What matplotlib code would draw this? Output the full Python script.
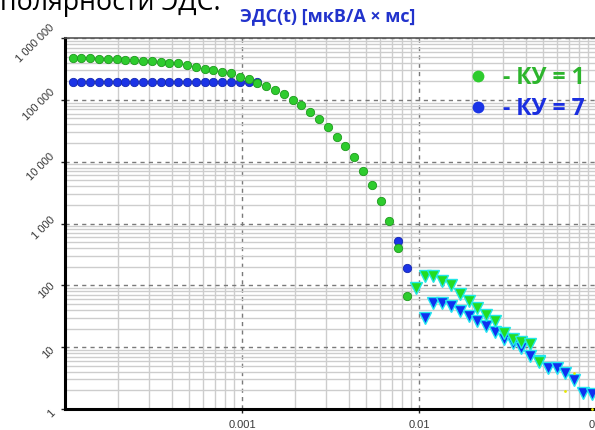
import matplotlib
matplotlib.use("Agg")
import matplotlib.pyplot as plt
from matplotlib.ticker import FixedLocator, LogLocator, NullFormatter
from matplotlib.lines import Line2D
import matplotlib.transforms as mtransforms

plt.rcParams['font.family'] = ['Open Sans', 'DejaVu Sans']

# time grid (s)
t = [1.105e-4, 1.239e-4, 1.389e-4, 1.558e-4, 1.747e-4, 1.959e-4, 2.196e-4, 2.463e-4,
     2.761e-4, 3.096e-4, 3.472e-4, 3.893e-4, 4.365e-4, 4.894e-4, 5.488e-4, 6.152e-4,
     6.900e-4, 7.736e-4, 8.675e-4, 9.723e-4, 1.090e-3, 1.222e-3, 1.370e-3, 1.537e-3,
     1.723e-3, 1.932e-3, 2.166e-3, 2.429e-3, 2.723e-3, 3.054e-3, 3.424e-3, 3.839e-3,
     4.304e-3, 4.826e-3, 5.411e-3, 6.067e-3, 6.803e-3, 7.627e-3, 8.552e-3, 9.590e-3,
     1.075e-2, 1.205e-2, 1.352e-2, 1.515e-2, 1.699e-2, 1.905e-2, 2.136e-2, 2.395e-2,
     2.685e-2, 3.011e-2, 3.376e-2, 3.785e-2, 4.244e-2, 4.759e-2, 5.336e-2, 5.983e-2,
     6.708e-2, 7.522e-2, 8.434e-2, 9.458e-2]

# KU = 1, positive polarity (circles), indices 0..38
ku1_pos = [470000, 470000, 468000, 466000, 457000, 455000, 445000, 435000, 429000,
           425000, 409000, 398000, 390000, 370000, 340000, 315000, 303000, 285000,
           269000, 238000, 219000, 190000, 167000, 144000, 123000, 99000, 81500,
           64000, 49000, 36700, 25300, 17900, 12000, 7100, 4200, 2300, 1090, 405, 67]
# KU = 1, negative polarity (triangles), indices 39..53
ku1_neg = [92, 139, 141, 117, 102, 73, 55, 42.3, 32.9, 26.4, 17.0, 13.6, 12.2, 11.3, 5.7]

# KU = 7, positive polarity: indices 0..21 and 37..38
ku7_pos_idx = list(range(0, 22)) + [37, 38]
ku7_pos = [196000] * 22 + [519, 192]
# KU = 7, negative polarity: indices 40..59
ku7_neg = [29.1, 50.9, 52.5, 46.0, 38.6, 32.1, 26.4, 22.0, 17.7, 13.8, 11.5, 9.7, 7.3,
           6.0, 4.52, 4.52, 3.79, 2.96, 1.82, 1.74]

# faint extra points (yellow)
extra_idx = [56, 57, 59]
extra_val = [1.94, 3.8, 1.0]

y_ticks = [1, 10, 100, 1000, 10000, 100000, 1000000]
y_labels = ['1', '10', '100', '1 000', '10 000', '100 000', '1 000 000']
x_ticks = [0.001, 0.01, 0.1]
x_labels = ['0.001', '0.01', '0.1']

W, H = 595, 430
fig = plt.figure(figsize=(W / 100, H / 100), dpi=100)
ax = fig.add_axes([65 / W, 21 / H, 531 / W, 371 / H])
ax.set_xscale('log')
ax.set_yscale('log')
ax.set_xlim(1e-4, 0.1)
ax.set_ylim(1, 1e6)

# grid
ax.set_axisbelow(True)
ax.xaxis.set_major_locator(FixedLocator(x_ticks))
ax.yaxis.set_major_locator(FixedLocator(y_ticks))
ax.xaxis.set_minor_locator(LogLocator(base=10, subs=range(2, 10), numticks=20))
ax.yaxis.set_minor_locator(LogLocator(base=10, subs=range(2, 10), numticks=20))
ax.xaxis.set_minor_formatter(NullFormatter())
ax.yaxis.set_minor_formatter(NullFormatter())
ax.grid(which='minor', color='#cdcdcd', linestyle='-', linewidth=1.0)
ax.grid(which='major', color='#7a7a7a', linestyle=(0, (3, 3)), linewidth=1.0)

ax.set_xticks(x_ticks)
ax.set_xticklabels(x_labels)
ax.set_yticks(y_ticks)
ax.set_yticklabels(y_labels, rotation=45, ha='right', va='center')
ax.tick_params(axis='both', which='major', labelsize=8, labelcolor='#3a3a3a',
               length=3, width=1, color='#222222')
ax.tick_params(axis='both', which='minor', length=0)
ax.tick_params(axis='x', pad=5)
ax.tick_params(axis='y', pad=3)
for lbl in ax.get_yticklabels() + ax.get_xticklabels():
    lbl.set_fontfamily(['Liberation Sans', 'DejaVu Sans'])
off = mtransforms.ScaledTranslation(0, -5 / 100, fig.dpi_scale_trans)
for lbl in ax.get_yticklabels():
    lbl.set_transform(lbl.get_transform() + off)

for s in ['left', 'bottom']:
    ax.spines[s].set_color('black')
    ax.spines[s].set_linewidth(2.2)
ax.spines['top'].set_color('#555555')
ax.spines['top'].set_linewidth(1.2)
ax.spines['right'].set_visible(False)

# data
blue_c = '#1c34e6'
green_c = '#2ecc2e'
ax.plot([t[i] for i in ku7_pos_idx], ku7_pos, 'o', ms=6.0, mfc=blue_c, mec='#1428b0',
        mew=0.6, zorder=3, clip_on=False)
ax.plot(t[40:60], ku7_neg, 'v', ms=8, mfc='#1030f0', mec='#22e6f0', mew=1.0, zorder=4,
        clip_on=False)
ax.plot(t[0:39], ku1_pos, 'o', ms=6.0, mfc=green_c, mec='#1e9a1e', mew=0.6, zorder=5,
        clip_on=False)
ax.plot(t[39:54], ku1_neg, 'v', ms=8, mfc='#22dd22', mec='#22e6e6', mew=1.0, zorder=6,
        clip_on=False)
ax.plot([t[i] for i in extra_idx], extra_val, 'o', ms=2, mfc='#e6e600', mec='none',
        zorder=7, clip_on=False)

# legend
handles = [Line2D([], [], marker='o', ls='none', ms=8.5, mfc='#2ecc2e', mec='none'),
           Line2D([], [], marker='o', ls='none', ms=8.5, mfc='#1a34e6', mec='none')]
leg = ax.legend(handles, ['- КУ = 1', '- КУ = 7'], loc='upper left',
                bbox_to_anchor=(466.5 / W, 1 - 66.5 / H), bbox_transform=fig.transFigure,
                frameon=False, handlelength=1.0, handletextpad=0.6,
                labelspacing=0.28, borderpad=0, borderaxespad=0,
                prop={'weight': 'bold', 'size': 16.5})
leg.get_texts()[0].set_color('#2db52d')
leg.get_texts()[1].set_color('#1a2ee0')

# title and cropped slide text
fig.text(328 / W, 1 - 16 / H, 'ЭДС(t) [мкВ/А × мс]', ha='center', va='center',
         fontsize=13, fontweight='bold', color='#2233cc')
fig.text(0 / W, 1 - 10 / H, 'полярности ЭДС.', ha='left', va='baseline',
         fontsize=19.3, color='black')

fig.savefig('out.png', dpi=100)
